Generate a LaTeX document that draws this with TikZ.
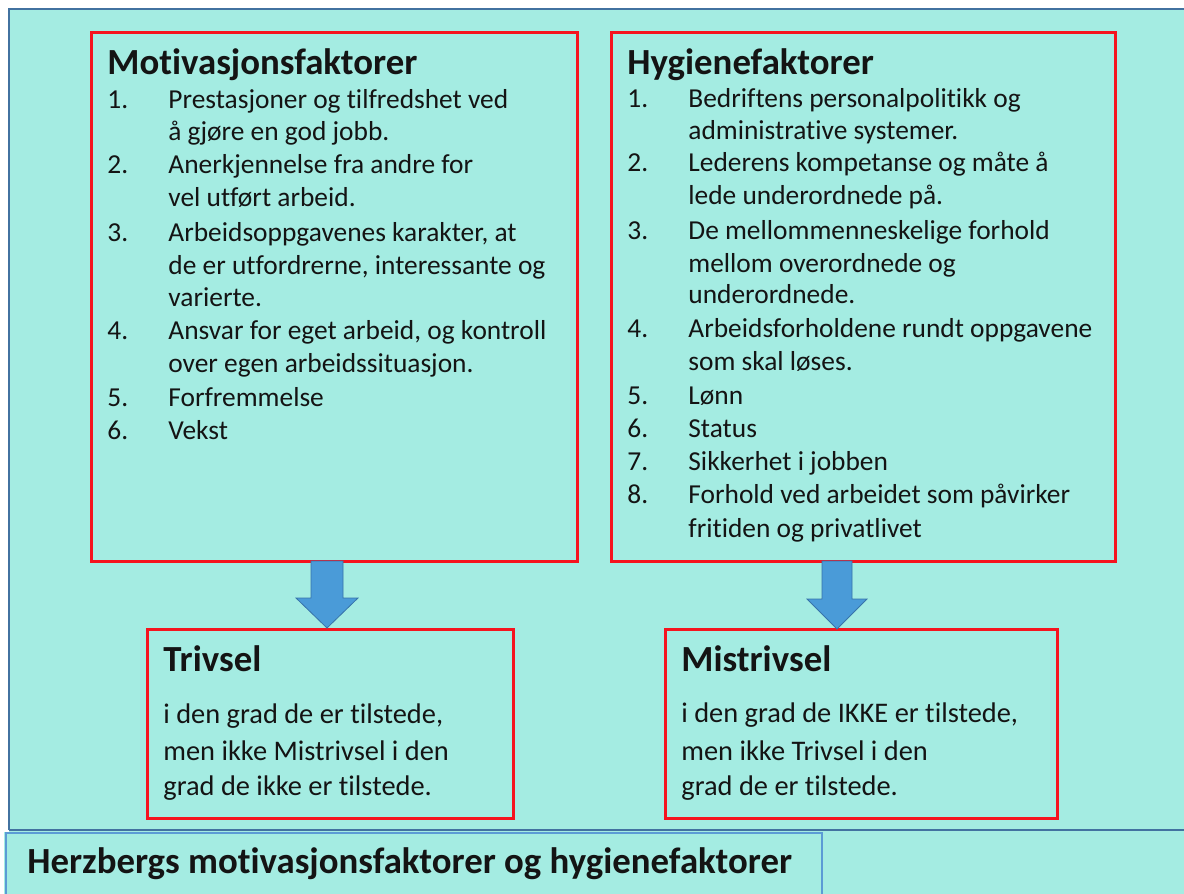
\documentclass[tikz,border=0pt]{standalone}
\usepackage{fontspec}
\setmainfont{Carlito}[Ligatures=NoCommon]
\definecolor{bgcyan}{RGB}{164,236,226}
\definecolor{panelblue}{RGB}{66,114,160}
\definecolor{capblue}{RGB}{91,155,213}
\definecolor{boxred}{RGB}{245,20,30}
\definecolor{arrowfill}{RGB}{74,155,216}
\definecolor{arrowline}{RGB}{55,115,170}
\definecolor{txt}{RGB}{20,20,20}
\begin{document}
\begin{tikzpicture}[x=0.5pt,y=-0.5pt,
  redbox/.style={draw=boxred,line width=1.25pt,inner sep=0pt,anchor=north west},
  ttl/.style={anchor=base west,inner sep=0pt,font=\fontsize{18.4}{21}\selectfont\bfseries,text=txt},
  itm/.style={anchor=base west,inner sep=0pt,font=\fontsize{13.7}{16}\selectfont,text=txt},
  res/.style={anchor=base west,inner sep=0pt,font=\fontsize{14.2}{17}\selectfont,text=txt},
  captiontext/.style={anchor=base west,inner sep=0pt,font=\fontsize{18.4}{21}\selectfont\bfseries,text=txt},
  blockarrow/.style={fill=arrowfill,draw=arrowline,line width=0.4pt}]
\useasboundingbox (0,0) rectangle (1184,894);
% background panel
\fill[white] (0,0) rectangle (1184,894);
\fill[bgcyan] (9,9) rectangle (1184,894);
\fill[bgcyan] (4,832) rectangle (9,894);
\draw[panelblue,line width=0.9pt] (9,830) -- (9,9) -- (1184,9);
\draw[panelblue,line width=0.9pt] (9,830) -- (1184,830);
% caption box
\node[draw=capblue,line width=0.75pt,inner sep=0pt,anchor=north west,minimum width=408pt,minimum height=33pt] (capbox) at (5,832) {};
\node[captiontext] (captxt) at (27,873) {Herzbergs motivasjonsfaktorer og hygienefaktorer};
% boxes
\node[redbox,minimum width=243pt,minimum height=264.5pt] (mot) at (90,31) {};
\node[redbox,minimum width=252pt,minimum height=264.5pt] (hyg) at (610,31) {};
\node[redbox,minimum width=183pt,minimum height=94.5pt] (triv) at (146,628) {};
\node[redbox,minimum width=196pt,minimum height=94.5pt] (mistriv) at (664,628) {};
% arrows
\draw[blockarrow] (311,561) -- (343,561) -- (343,598) -- (358,598) -- (327,628) -- (296,598) -- (311,598) -- cycle;
\draw[blockarrow] (822,561) -- (852,561) -- (852,599) -- (867,599) -- (837,629) -- (807,599) -- (822,599) -- cycle;
% Motivasjonsfaktorer
\node[ttl] (t1) at (107,74) {Motivasjonsfaktorer};
\node[itm] (m1n) at (107,108) {1.};
\node[itm] (m1a) at (168,108) {Prestasjoner og tilfredshet ved};
\node[itm] (m1b) at (168,140) {å gjøre en god jobb.};
\node[itm] (m2n) at (107,173) {2.};
\node[itm] (m2a) at (168,173) {Anerkjennelse fra andre for};
\node[itm] (m2b) at (168,206) {vel utført arbeid.};
\node[itm] (m3n) at (107,241) {3.};
\node[itm] (m3a) at (168,241) {Arbeidsoppgavenes karakter, at};
\node[itm] (m3b) at (168,274) {de er utfordrerne, interessante og};
\node[itm] (m3c) at (168,306) {varierte.};
\node[itm] (m4n) at (107,339) {4.};
\node[itm] (m4a) at (168,339) {Ansvar for eget arbeid, og kontroll};
\node[itm] (m4b) at (168,372) {over egen arbeidssituasjon.};
\node[itm] (m5n) at (107,406) {5.};
\node[itm] (m5a) at (168,406) {Forfremmelse};
\node[itm] (m6n) at (107,439) {6.};
\node[itm] (m6a) at (168,439) {Vekst};
% Hygienefaktorer
\node[ttl] (t2) at (627,74) {Hygienefaktorer};
\node[itm] (h1n) at (627,107) {1.};
\node[itm] (h1a) at (688,107) {Bedriftens personalpolitikk og};
\node[itm] (h1b) at (688,139) {administrative systemer.};
\node[itm] (h2n) at (627,171) {2.};
\node[itm] (h2a) at (688,171) {Lederens kompetanse og måte å};
\node[itm] (h2b) at (688,204) {lede underordnede på.};
\node[itm] (h3n) at (627,239) {3.};
\node[itm] (h3a) at (688,239) {De mellommenneskelige forhold};
\node[itm] (h3b) at (688,272) {mellom overordnede og};
\node[itm] (h3c) at (688,303) {underordnede.};
\node[itm] (h4n) at (627,337) {4.};
\node[itm] (h4a) at (688,337) {Arbeidsforholdene rundt oppgavene};
\node[itm] (h4b) at (688,370) {som skal løses.};
\node[itm] (h5n) at (627,404) {5.};
\node[itm] (h5a) at (688,404) {Lønn};
\node[itm] (h6n) at (627,437) {6.};
\node[itm] (h6a) at (688,437) {Status};
\node[itm] (h7n) at (627,470) {7.};
\node[itm] (h7a) at (688,470) {Sikkerhet i jobben};
\node[itm] (h8n) at (627,503) {8.};
\node[itm] (h8a) at (688,503) {Forhold ved arbeidet som påvirker};
\node[itm] (h8b) at (688,537) {fritiden og privatlivet};
% Trivsel
\node[ttl] (t3) at (163,671) {Trivsel};
\node[res] (r1) at (163,723) {i den grad de er tilstede,};
\node[res] (r2) at (163,760) {men ikke Mistrivsel i den};
\node[res] (r3) at (163,795) {grad de ikke er tilstede.};
% Mistrivsel
\node[ttl] (t4) at (681,671) {Mistrivsel};
\node[res] (s1) at (681,722) {i den grad de IKKE er tilstede,};
\node[res] (s2) at (681,760) {men ikke Trivsel i den};
\node[res] (s3) at (681,795) {grad de er tilstede.};
\end{tikzpicture}
\end{document}
